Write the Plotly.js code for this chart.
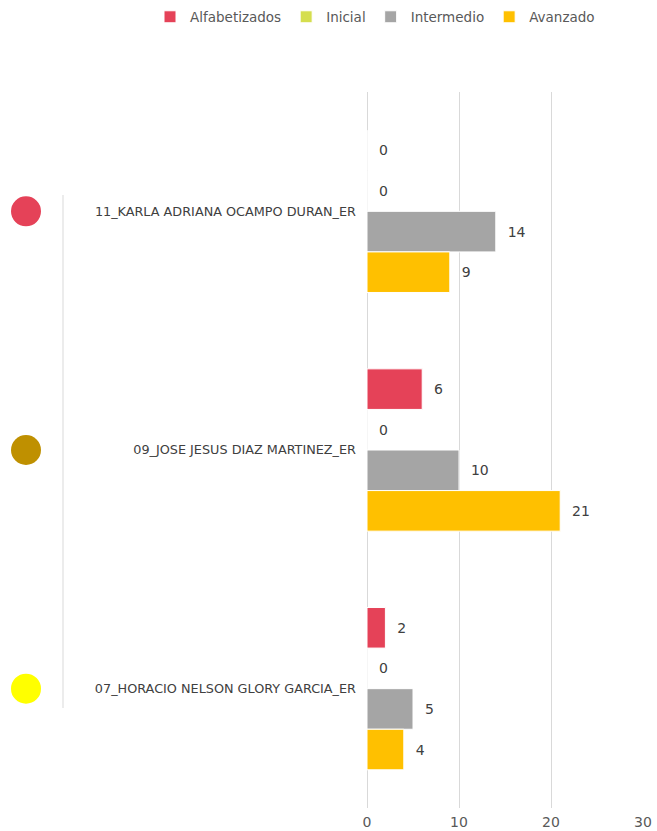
<!DOCTYPE html>
<html>
<head>
<meta charset="utf-8">
<script src="https://cdn.plot.ly/plotly-3.0.1.min.js"></script>
<style>html,body{margin:0;padding:0;background:#fff;}#chart{width:657px;height:831px;}</style>
</head>
<body>
<div id="chart"></div>
<script>
const categories = ["11_KARLA ADRIANA OCAMPO DURAN_ER", "09_JOSE JESUS DIAZ MARTINEZ_ER", "07_HORACIO NELSON GLORY GARCIA_ER"];
const seriesNames = ["Alfabetizados", "Inicial", "Intermedio", "Avanzado"];
const alfabetizados = [0, 6, 2];
const inicial = [0, 0, 0];
const intermedio = [14, 10, 5];
const avanzado = [9, 21, 4];
const xTicks = [0, 10, 20, 30];

const seriesValues = [alfabetizados, inicial, intermedio, avanzado];
const seriesColors = ["#E54258", "#D5DE4E", "#A5A5A5", "#FFC000"];
const circleColors = ["#E54258", "#BF9000", "#FFFF00"];

const font = "DejaVu Sans, sans-serif";

const traces = seriesNames.map((name, i) => ({
  type: "bar",
  orientation: "h",
  name: name,
  y: categories,
  x: seriesValues[i],
  marker: {color: seriesColors[i], line: {color: "#ffffff", width: 1}},
  texttemplate: "\u00a0\u00a0%{x}",
  textposition: "outside",
  cliponaxis: false,
  textfont: {family: font, size: 14, color: "#404040"},
  hoverinfo: "x+name"
}));

const shapes = categories.map((c, i) => ({
  type: "circle",
  xref: "paper", yref: "y",
  xsizemode: "pixel", ysizemode: "pixel",
  xanchor: (26 - 367) / 276, yanchor: i,
  x0: -15, x1: 15, y0: -15, y1: 15,
  fillcolor: circleColors[i],
  line: {width: 0}
}));
shapes.push({
  type: "line", xref: "paper", yref: "paper",
  x0: (63 - 367) / 276, x1: (63 - 367) / 276,
  y0: (808 - 195) / 716, y1: (808 - 708) / 716,
  line: {color: "#D9D9D9", width: 1}
});

const layout = {
  width: 657, height: 831,
  margin: {l: 367, r: 14, t: 92, b: 23, autoexpand: false},
  paper_bgcolor: "#ffffff", plot_bgcolor: "#ffffff",
  font: {family: font, color: "#595959"},
  barmode: "group",
  bargap: 0.32,
  bargroupgap: 0,
  showlegend: true,
  legend: {
    orientation: "h",
    xref: "paper", yref: "paper",
    x: (150 - 367) / 276, xanchor: "left",
    y: (808 - 17) / 716, yanchor: "middle",
    font: {family: font, size: 13.5, color: "#595959"},
    itemwidth: 30,
    tracegroupgap: 0,
    bgcolor: "rgba(0,0,0,0)"
  },
  xaxis: {
    range: [0, 30],
    tickvals: xTicks,
    ticktext: xTicks.map(String),
    showgrid: true, gridcolor: "#D9D9D9", gridwidth: 1,
    zeroline: true, zerolinecolor: "#D9D9D9", zerolinewidth: 1,
    showline: false,
    ticks: "",
    ticklabelstandoff: 4,
    tickfont: {family: font, size: 14, color: "#595959"},
    automargin: false,
    fixedrange: true
  },
  yaxis: {
    type: "category",
    autorange: "reversed",
    showgrid: false, zeroline: false, showline: false,
    ticks: "",
    ticklabelstandoff: 10,
    tickfont: {family: font, size: 12.8, color: "#404040"},
    automargin: false,
    fixedrange: true
  },
  shapes: shapes
};

Plotly.newPlot("chart", traces, layout, {displayModeBar: false, staticPlot: true});
</script>
</body>
</html>
